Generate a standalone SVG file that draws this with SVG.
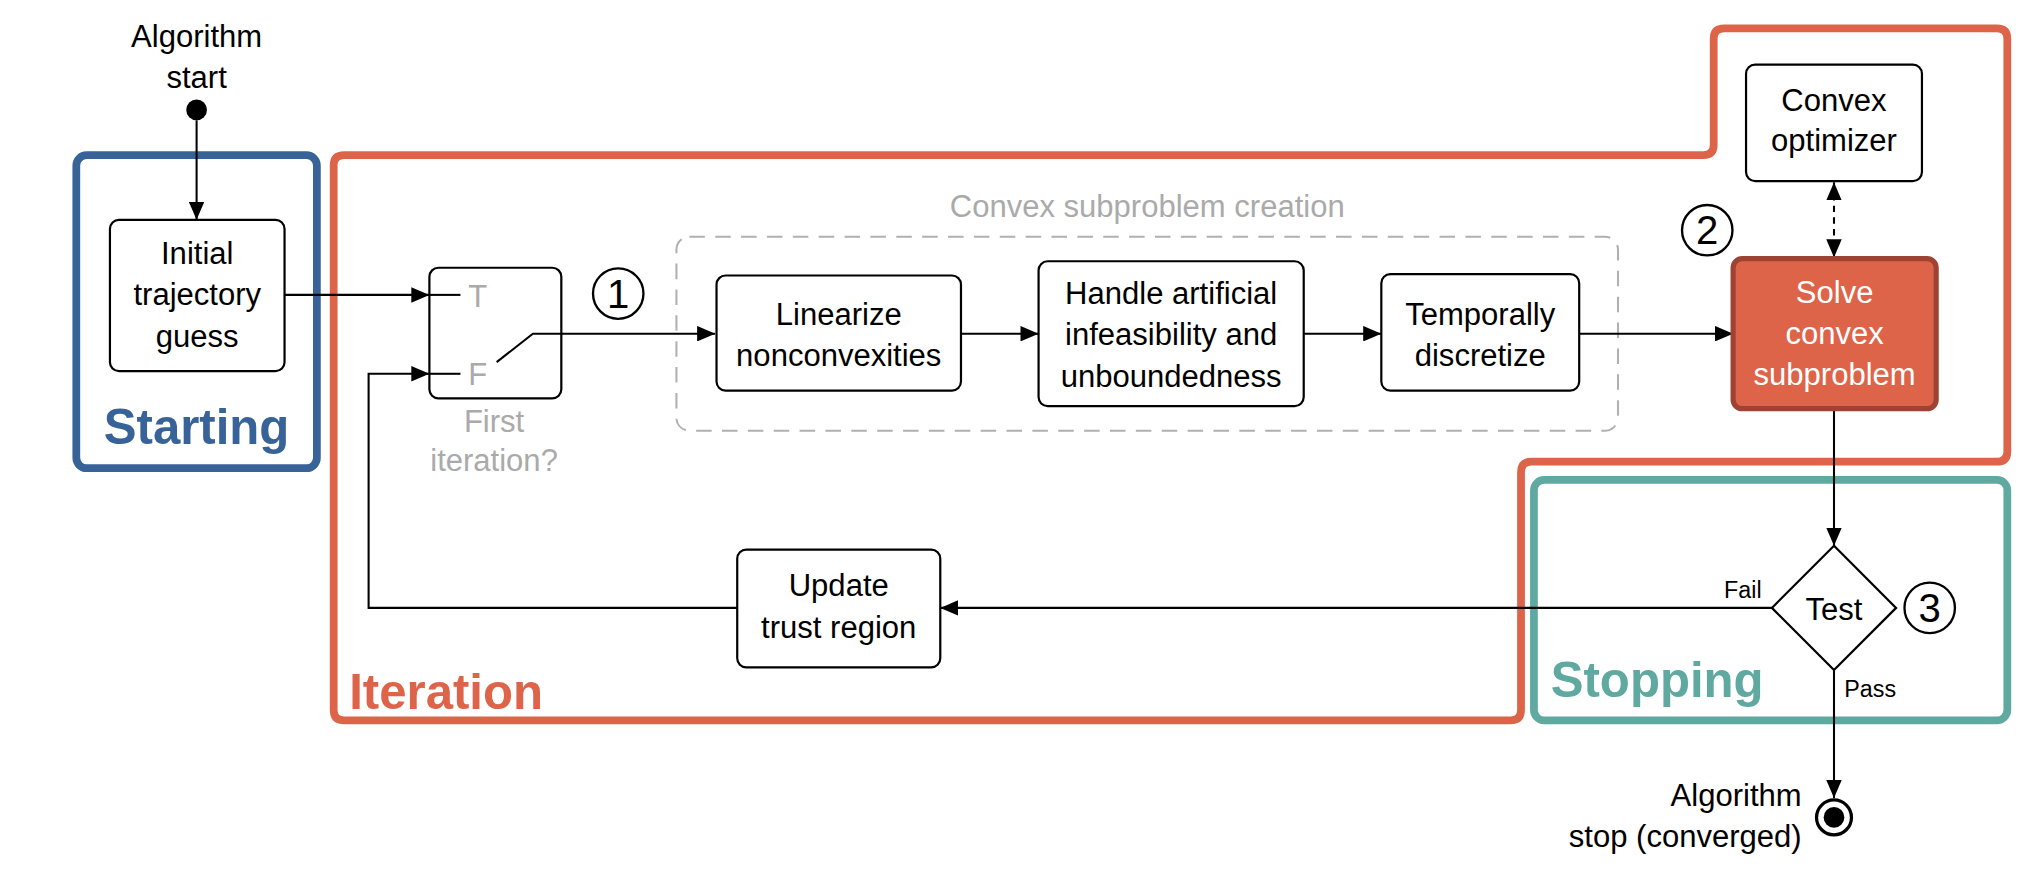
<svg xmlns="http://www.w3.org/2000/svg" width="2028" height="874" viewBox="0 0 2028 874">
<style>
text{font-family:"Liberation Sans",Arial,sans-serif;}
.t{font-size:24px;fill:#000;text-anchor:middle;}
.g{font-size:24px;fill:#aaaaaa;}
.box{fill:#fff;stroke:#000;stroke-width:1.7;}
.ln{fill:none;stroke:#000;stroke-width:1.6;}
.big{font-size:38px;font-weight:bold;}
.sm{font-size:18px;fill:#000;}
.num{fill:none;stroke:#000;stroke-width:1.8;}
.nt{font-size:31px;fill:#000;text-anchor:middle;}
</style>
<defs>
<marker id="ah" markerUnits="userSpaceOnUse" markerWidth="16" markerHeight="12" refX="14" refY="6" orient="auto-start-reverse">
<path d="M0,0 L14,6 L0,12 Z" fill="#000"/>
</marker>
</defs>
<rect width="2028" height="874" fill="#fff"/>
<g transform="scale(1.29337)">
<g id="groups">
<g id="starting-region">
<rect x="59" y="120" width="186" height="242" rx="8" fill="none" stroke="#386399" stroke-width="6"/>
<text x="152" y="343" class="big" fill="#386399" text-anchor="middle">Starting</text>
</g>
<g id="iteration-region">
<path d="M266,120 H1317 Q1325,120 1325,112 V30 Q1325,22 1333,22 H1544 Q1552,22 1552,30 V349 Q1552,357 1544,357 H1184 Q1176,357 1176,365 V549 Q1176,557 1168,557 H266 Q258,557 258,549 V128 Q258,120 266,120 Z" fill="none" stroke="#dd6449" stroke-width="6"/>
<text x="270" y="548" class="big" fill="#dd6449">Iteration</text>
</g>
<g id="stopping-region">
<rect x="1186" y="371" width="366" height="186" rx="8" fill="none" stroke="#5fa9a1" stroke-width="6"/>
<text x="1199" y="539" class="big" fill="#5fa9a1">Stopping</text>
</g>
<g id="subproblem-creation">
<rect x="523" y="183" width="728" height="150" rx="10" fill="none" stroke="#b0b0b0" stroke-width="1.6" stroke-dasharray="12,8"/>
<text x="887" y="168" class="g" text-anchor="middle">Convex subproblem creation</text>
</g>
</g>
<g id="connectors">
<line x1="152" y1="93" x2="152" y2="170" class="ln" marker-end="url(#ah)"/>
<line x1="220" y1="228" x2="332" y2="228" class="ln" marker-end="url(#ah)"/>
<polyline points="570,470 285,470 285,289 332,289" class="ln" marker-end="url(#ah)"/>
<line x1="1008" y1="258" x2="1068" y2="258" class="ln" marker-end="url(#ah)"/>
<line x1="743" y1="258" x2="803" y2="258" class="ln" marker-end="url(#ah)"/>
<line x1="1221" y1="258" x2="1340" y2="258" class="ln" marker-end="url(#ah)"/>
<line x1="1418" y1="141" x2="1418" y2="199" class="ln" stroke-dasharray="5,4" marker-start="url(#ah)" marker-end="url(#ah)"/>
<line x1="1418" y1="316" x2="1418" y2="422" class="ln" marker-end="url(#ah)"/>
<line x1="1370" y1="470" x2="727" y2="470" class="ln" marker-end="url(#ah)"/>
<line x1="1418" y1="518" x2="1418" y2="617" class="ln" marker-end="url(#ah)"/>
<text x="1362" y="462" class="sm" text-anchor="end">Fail</text>
<text x="1426" y="539" class="sm">Pass</text>
</g>
<g id="start">
<text x="152" y="36" class="t">Algorithm</text>
<text x="152" y="68" class="t">start</text>
<circle cx="152" cy="85" r="8" fill="#000"/>
</g>
<g id="initial-guess">
<rect x="85" y="170" width="135" height="117" rx="7" class="box"/>
<text x="152.5" y="204" class="t">Initial</text>
<text x="152.5" y="236" class="t">trajectory</text>
<text x="152.5" y="268" class="t">guess</text>
</g>
<g id="first-iteration-switch">
<rect x="332" y="207" width="102" height="101" rx="7" class="box"/>
<line x1="332" y1="228" x2="356" y2="228" class="ln"/>
<line x1="332" y1="289" x2="356" y2="289" class="ln"/>
<polyline points="384,280 412,258 553,258" class="ln" marker-end="url(#ah)"/>
<text x="362" y="237" class="g">T</text>
<text x="362" y="298" class="g">F</text>
<text x="382" y="334" class="g" text-anchor="middle">First</text>
<text x="382" y="364" class="g" text-anchor="middle">iteration?</text>
</g>
<g id="marker-1">
<circle cx="478" cy="227" r="19.5" class="num"/>
<text x="478" y="238" class="nt">1</text>
</g>
<g id="linearize">
<rect x="554" y="213" width="189" height="89" rx="7" class="box"/>
<text x="648.5" y="251" class="t">Linearize</text>
<text x="648.5" y="283" class="t">nonconvexities</text>
</g>
<g id="handle-infeasibility">
<rect x="803" y="202" width="205" height="112" rx="7" class="box"/>
<text x="905.5" y="235" class="t">Handle artificial</text>
<text x="905.5" y="267" class="t">infeasibility and</text>
<text x="905.5" y="299" class="t">unboundedness</text>
</g>
<g id="discretize">
<rect x="1068" y="212" width="153" height="90" rx="7" class="box"/>
<text x="1144.5" y="251" class="t">Temporally</text>
<text x="1144.5" y="283" class="t">discretize</text>
</g>
<g id="marker-2">
<circle cx="1320" cy="178" r="19.5" class="num"/>
<text x="1320" y="189" class="nt">2</text>
</g>
<g id="convex-optimizer">
<rect x="1350" y="50" width="136" height="90" rx="7" class="box"/>
<text x="1418" y="86" class="t">Convex</text>
<text x="1418" y="117" class="t">optimizer</text>
</g>
<g id="solve-subproblem">
<rect x="1340" y="200" width="157" height="116" rx="7" fill="#dd6449" stroke="#9e4333" stroke-width="4"/>
<text x="1418.5" y="234" class="t" style="fill:#fff">Solve</text>
<text x="1418.5" y="266" class="t" style="fill:#fff">convex</text>
<text x="1418.5" y="298" class="t" style="fill:#fff">subproblem</text>
</g>
<g id="test">
<polygon points="1418,422 1466,470 1418,518 1370,470" class="box"/>
<text x="1418" y="479" class="t">Test</text>
</g>
<g id="marker-3">
<circle cx="1492" cy="470" r="19.5" class="num"/>
<text x="1492" y="481" class="nt">3</text>
</g>
<g id="update-trust-region">
<rect x="570" y="425" width="157" height="91" rx="7" class="box"/>
<text x="648.5" y="461" class="t">Update</text>
<text x="648.5" y="493" class="t">trust region</text>
</g>
<g id="stop">
<circle cx="1418" cy="632" r="13.5" fill="#fff" stroke="#000" stroke-width="2.5"/>
<circle cx="1418" cy="632" r="8" fill="#000"/>
<text x="1393" y="623" class="t" style="text-anchor:end">Algorithm</text>
<text x="1393" y="655" class="t" style="text-anchor:end">stop (converged)</text>
</g>
</g>
</svg>
